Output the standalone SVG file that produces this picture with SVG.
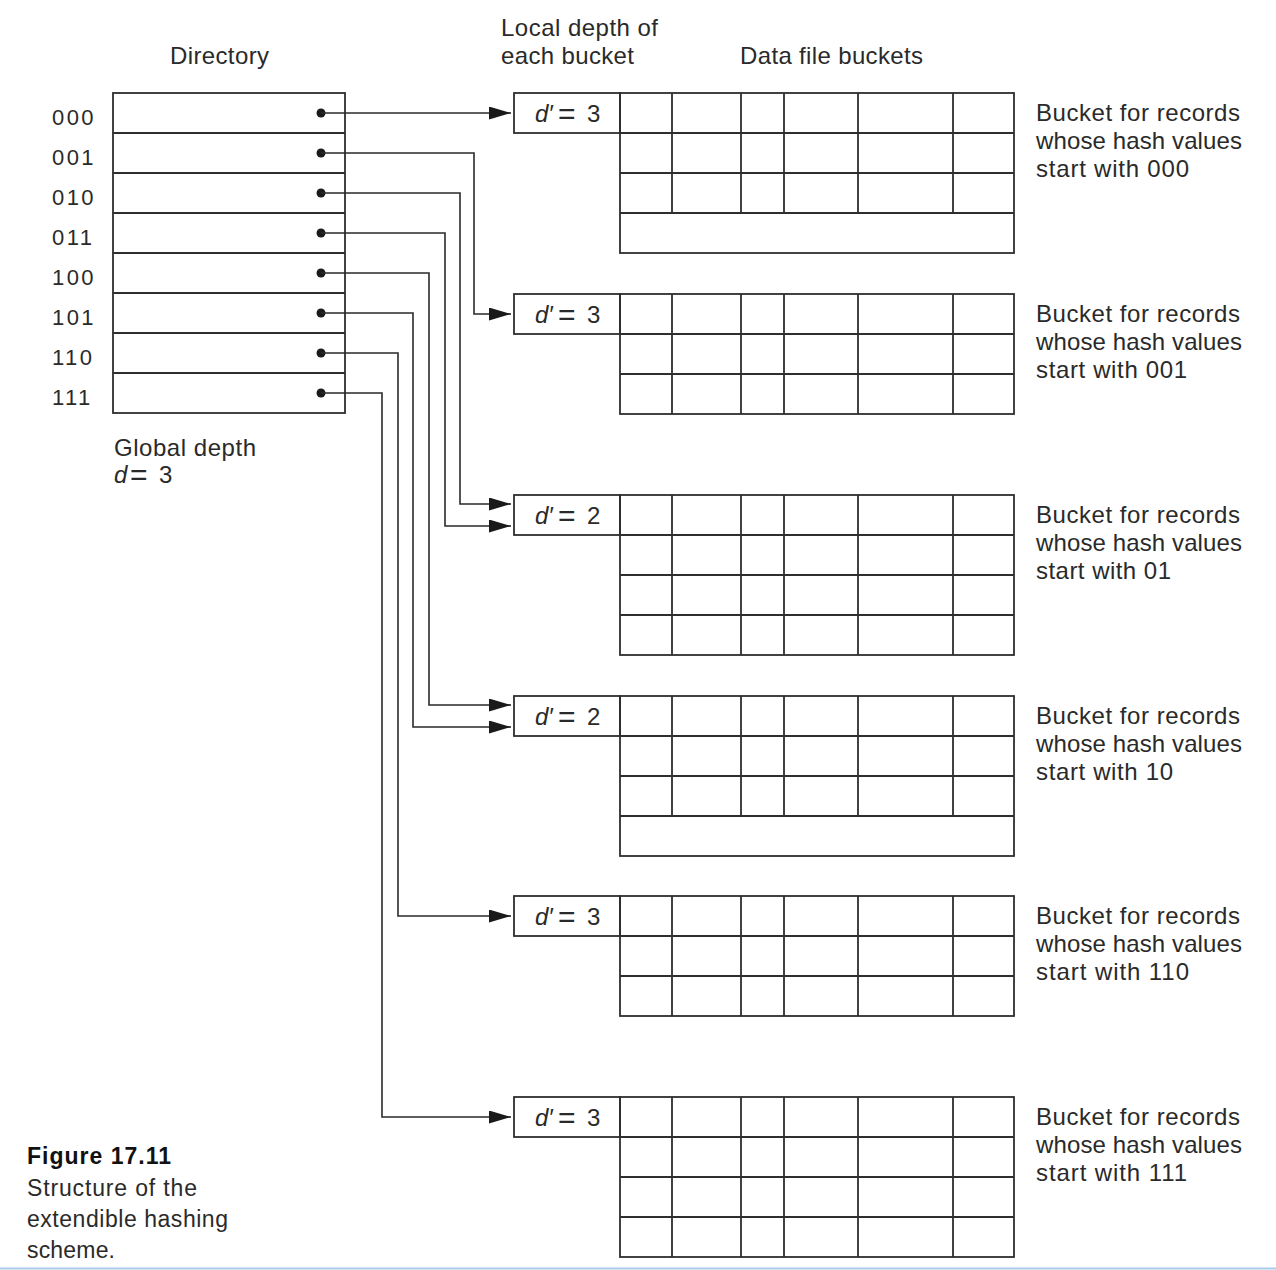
<svg xmlns="http://www.w3.org/2000/svg" width="1276" height="1270" viewBox="0 0 1276 1270">
<style>
.t{font-family:"Liberation Sans",Arial,sans-serif;font-size:24px;fill:#2a2a2a}
.lbl{font-family:"Liberation Sans",Arial,sans-serif;font-size:22px;fill:#2a2a2a;letter-spacing:2.4px}
.cap{font-family:"Liberation Sans",Arial,sans-serif;font-size:23px;fill:#2a2a2a}
.b{font-weight:bold;fill:#111}
.it{font-style:italic}
.eq{font-size:30px}
.ln{fill:none;stroke:#2e2e2e;stroke-width:1.8}
.cn{fill:none;stroke:#2a2a2a;stroke-width:1.6}
.dot{fill:#1a1a1a}
</style>
<defs>
<marker id="ah" markerUnits="userSpaceOnUse" markerWidth="24" markerHeight="14" refX="22" refY="6.5" orient="auto">
<path d="M0,0 L22,6.5 L0,13 z" fill="#1a1a1a"/>
</marker>
<g id="cols">
<path class="ln" d="M672,0 V40 M741,0 V40 M784,0 V40 M858,0 V40 M953,0 V40"/>
</g>
</defs>
<rect width="1276" height="1270" fill="#ffffff"/>

<g id="headers">
<text class="t" x="170" y="64" textLength="99">Directory</text>
<text class="t" x="501" y="36" textLength="157">Local depth of</text>
<text class="t" x="501" y="64" textLength="133">each bucket</text>
<text class="t" x="740" y="64" textLength="183">Data file buckets</text>
</g>

<g id="directory">
<rect class="ln" x="113" y="93" width="232" height="320"/>
<path class="ln" d="M113,133 H345 M113,173 H345 M113,213 H345 M113,253 H345 M113,293 H345 M113,333 H345 M113,373 H345"/>
<text class="lbl" x="52" y="125">000</text>
<text class="lbl" x="52" y="165">001</text>
<text class="lbl" x="52" y="205">010</text>
<text class="lbl" x="52" y="245">011</text>
<text class="lbl" x="52" y="285">100</text>
<text class="lbl" x="52" y="325">101</text>
<text class="lbl" x="52" y="365">110</text>
<text class="lbl" x="52" y="405">111</text>
<circle class="dot" cx="321" cy="113" r="4.5"/>
<circle class="dot" cx="321" cy="153" r="4.5"/>
<circle class="dot" cx="321" cy="193" r="4.5"/>
<circle class="dot" cx="321" cy="233" r="4.5"/>
<circle class="dot" cx="321" cy="273" r="4.5"/>
<circle class="dot" cx="321" cy="313" r="4.5"/>
<circle class="dot" cx="321" cy="353" r="4.5"/>
<circle class="dot" cx="321" cy="393" r="4.5"/>
</g>

<g id="global-depth">
<text class="t" x="114" y="456" textLength="142">Global depth</text>
<text class="t" x="114" y="483"><tspan class="it">d</tspan><tspan class="eq" x="130" y="485">=</tspan><tspan x="159" y="483">3</tspan></text>
</g>

<g id="connectors">
<path class="cn" marker-end="url(#ah)" d="M321,113 H511"/>
<path class="cn" marker-end="url(#ah)" d="M321,153 H474 V314 H511"/>
<path class="cn" marker-end="url(#ah)" d="M321,193 H460 V504 H511"/>
<path class="cn" marker-end="url(#ah)" d="M321,233 H445 V526 H511"/>
<path class="cn" marker-end="url(#ah)" d="M321,273 H429 V705 H511"/>
<path class="cn" marker-end="url(#ah)" d="M321,313 H413 V727 H511"/>
<path class="cn" marker-end="url(#ah)" d="M321,353 H398 V916 H511"/>
<path class="cn" marker-end="url(#ah)" d="M321,393 H382 V1117 H511"/>
</g>

<g id="bucket-000">
<rect class="ln" x="514" y="93" width="106" height="40"/>
<text class="t" x="535" y="122"><tspan class="it">d′</tspan><tspan class="eq" x="558" y="124">=</tspan><tspan x="587" y="122">3</tspan></text>
<rect class="ln" x="620" y="93" width="394" height="160"/>
<path class="ln" d="M620,133 H1014 M620,173 H1014 M620,213 H1014"/>
<use href="#cols" y="93"/><use href="#cols" y="133"/><use href="#cols" y="173"/>
<text class="t" x="1036" y="121" textLength="204">Bucket for records</text>
<text class="t" x="1036" y="149" textLength="206">whose hash values</text>
<text class="t" x="1036" y="177" textLength="153">start with 000</text>
</g>

<g id="bucket-001">
<rect class="ln" x="514" y="294" width="106" height="40"/>
<text class="t" x="535" y="323"><tspan class="it">d′</tspan><tspan class="eq" x="558" y="325">=</tspan><tspan x="587" y="323">3</tspan></text>
<rect class="ln" x="620" y="294" width="394" height="120"/>
<path class="ln" d="M620,334 H1014 M620,374 H1014"/>
<use href="#cols" y="294"/><use href="#cols" y="334"/><use href="#cols" y="374"/>
<text class="t" x="1036" y="322" textLength="204">Bucket for records</text>
<text class="t" x="1036" y="350" textLength="206">whose hash values</text>
<text class="t" x="1036" y="378" textLength="151">start with 001</text>
</g>

<g id="bucket-01">
<rect class="ln" x="514" y="495" width="106" height="40"/>
<text class="t" x="535" y="524"><tspan class="it">d′</tspan><tspan class="eq" x="558" y="526">=</tspan><tspan x="587" y="524">2</tspan></text>
<rect class="ln" x="620" y="495" width="394" height="160"/>
<path class="ln" d="M620,535 H1014 M620,575 H1014 M620,615 H1014"/>
<use href="#cols" y="495"/><use href="#cols" y="535"/><use href="#cols" y="575"/><use href="#cols" y="615"/>
<text class="t" x="1036" y="523" textLength="204">Bucket for records</text>
<text class="t" x="1036" y="551" textLength="206">whose hash values</text>
<text class="t" x="1036" y="579" textLength="135">start with 01</text>
</g>

<g id="bucket-10">
<rect class="ln" x="514" y="696" width="106" height="40"/>
<text class="t" x="535" y="725"><tspan class="it">d′</tspan><tspan class="eq" x="558" y="727">=</tspan><tspan x="587" y="725">2</tspan></text>
<rect class="ln" x="620" y="696" width="394" height="160"/>
<path class="ln" d="M620,736 H1014 M620,776 H1014 M620,816 H1014"/>
<use href="#cols" y="696"/><use href="#cols" y="736"/><use href="#cols" y="776"/>
<text class="t" x="1036" y="724" textLength="204">Bucket for records</text>
<text class="t" x="1036" y="752" textLength="206">whose hash values</text>
<text class="t" x="1036" y="780" textLength="137">start with 10</text>
</g>

<g id="bucket-110">
<rect class="ln" x="514" y="896" width="106" height="40"/>
<text class="t" x="535" y="925"><tspan class="it">d′</tspan><tspan class="eq" x="558" y="927">=</tspan><tspan x="587" y="925">3</tspan></text>
<rect class="ln" x="620" y="896" width="394" height="120"/>
<path class="ln" d="M620,936 H1014 M620,976 H1014"/>
<use href="#cols" y="896"/><use href="#cols" y="936"/><use href="#cols" y="976"/>
<text class="t" x="1036" y="924" textLength="204">Bucket for records</text>
<text class="t" x="1036" y="952" textLength="206">whose hash values</text>
<text class="t" x="1036" y="980" textLength="153">start with 110</text>
</g>

<g id="bucket-111">
<rect class="ln" x="514" y="1097" width="106" height="40"/>
<text class="t" x="535" y="1126"><tspan class="it">d′</tspan><tspan class="eq" x="558" y="1128">=</tspan><tspan x="587" y="1126">3</tspan></text>
<rect class="ln" x="620" y="1097" width="394" height="160"/>
<path class="ln" d="M620,1137 H1014 M620,1177 H1014 M620,1217 H1014"/>
<use href="#cols" y="1097"/><use href="#cols" y="1137"/><use href="#cols" y="1177"/><use href="#cols" y="1217"/>
<text class="t" x="1036" y="1125" textLength="204">Bucket for records</text>
<text class="t" x="1036" y="1153" textLength="206">whose hash values</text>
<text class="t" x="1036" y="1181" textLength="151">start with 111</text>
</g>

<g id="caption">
<text class="cap b" x="27" y="1164" textLength="144">Figure 17.11</text>
<text class="cap" x="27" y="1196" textLength="170">Structure of the</text>
<text class="cap" x="27" y="1227" textLength="201">extendible hashing</text>
<text class="cap" x="27" y="1258" textLength="88">scheme.</text>
</g>

<line x1="0" y1="1268.5" x2="1276" y2="1268.5" stroke="#a9cbe9" stroke-width="2"/>
</svg>
